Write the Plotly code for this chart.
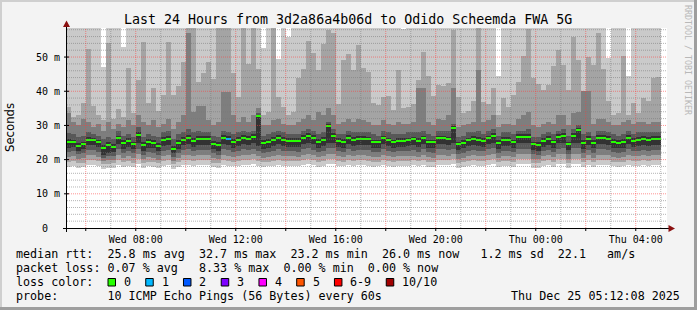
import plotly.graph_objects as go
import pandas as pd

# ---------------- data ----------------
median = [25.2, 25.2, 24.1, 24.6, 25.8, 25.8, 25.2, 23.5, 24.4, 23.8,
          26.4, 24.9, 25.5, 24.6, 27.3, 24.4, 25.2, 24.9, 24.1, 25.8,
          26.1, 23.2, 24.9, 25.8, 26.4, 25.5, 26.1, 26.1, 26.1, 24.6,
          24.4, 26.4, 26.1, 25.2, 25.8, 26.4, 26.1, 26.7, 32.8, 24.9,
          25.2, 25.8, 26.4, 25.8, 25.5, 25.5, 25.5, 26.4, 27.0, 26.4,
          25.2, 25.8, 29.9, 27.0, 25.5, 25.2, 26.4, 25.8, 26.1, 26.1,
          25.9, 25.1, 25.1, 26.3, 25.7, 25.1, 25.5, 25.5, 25.7, 26.0,
          25.5, 26.3, 25.1, 25.1, 26.3, 26.3, 26.0, 29.3, 24.5, 25.0,
          25.7, 26.1, 25.8, 25.5, 26.3, 27.0, 25.0, 25.8, 25.8, 25.1,
          26.7, 26.7, 26.7, 24.6, 24.4, 25.5, 26.1, 25.1, 26.7, 27.0,
          24.6, 27.0, 28.7, 25.0, 26.1, 25.0, 26.4, 26.4, 26.1, 25.2,
          25.0, 25.2, 26.4, 25.5, 25.8, 26.1, 25.8, 26.1, 26.1]

loss = [0] * 32 + [1] + [0] * 86

p10 = [65, 65, 65, 65, 65, 65, 65, 47.0, 65, 65,
       65, 53.0, 65, 65, 65, 65, 65, 65, 65, 65,
       65, 65, 65, 65, 65, 65, 65, 65, 65, 65,
       65, 65, 65, 65, 65, 65, 65, 65, 65, 52.7,
       65, 65, 49.5, 65, 56.0, 65, 65, 65, 65, 65,
       65, 65, 65, 65, 65, 65, 65, 65, 65, 65,
       65, 65, 65, 65, 65, 65, 65, 58.2, 65, 65,
       65, 65, 65, 65, 65, 65, 65, 65, 65, 65,
       65, 65, 65, 65, 65, 65, 44.6, 65, 65, 65,
       65, 65, 65, 65, 65, 65, 65, 65, 65, 65,
       65, 65, 65, 65, 65, 65, 65, 65, 49.8, 65,
       65, 65, 44.6, 65, 65, 65, 65, 65, 65]

p9 = [35.5, 32.5, 33.0, 36.6, 52.4, 35.7, 33.0, 31.5, 54.0, 32.0,
      34.9, 32.5, 46.8, 33.5, 43.3, 54.3, 36.6, 41.0, 34.3, 39.0,
      54.3, 39.0, 41.6, 48.6, 62.0, 62.0, 42.6, 45.3, 48.6, 43.6,
      62.0, 62.0, 62.0, 45.3, 38.3, 62.0, 48.1, 62.0, 46.6, 33.0,
      34.0, 62.0, 38.3, 35.4, 33.0, 34.0, 43.8, 46.6, 54.6, 51.1,
      46.3, 53.8, 57.9, 57.0, 36.4, 49.2, 50.9, 46.3, 53.5, 46.8,
      45.6, 36.7, 36.0, 38.3, 38.6, 34.5, 46.1, 35.0, 35.5, 36.4,
      43.3, 51.4, 44.5, 38.6, 41.9, 41.6, 42.4, 57.9, 38.3, 33.5,
      34.3, 37.1, 62.0, 37.0, 36.4, 41.0, 33.0, 38.0, 35.4, 38.9,
      42.6, 50.2, 58.2, 43.8, 42.0, 40.4, 41.8, 47.4, 52.1, 47.7,
      40.4, 55.9, 49.2, 36.0, 50.0, 47.7, 57.0, 46.5, 37.1, 33.0,
      33.5, 50.2, 33.0, 36.7, 33.5, 38.0, 37.1, 43.8, 44.2]

p8 = [33.6, 31.0, 30.0, 32.0, 31.0, 29.5, 30.5, 28.5, 31.0, 29.0,
      30.5, 29.5, 31.5, 30.0, 33.0, 31.0, 30.0, 31.5, 29.5, 30.5,
      32.0, 29.0, 31.0, 33.0, 56.9, 34.0, 35.8, 35.8, 31.5, 30.0,
      31.0, 39.8, 39.8, 33.0, 31.0, 32.5, 31.0, 33.0, 35.0, 30.0,
      30.0, 31.5, 32.0, 30.5, 30.0, 30.0, 31.0, 32.0, 33.0, 31.5,
      34.0, 33.0, 35.0, 33.0, 30.5, 31.0, 32.0, 31.0, 32.0, 31.5,
      31.0, 30.0, 30.0, 31.5, 30.5, 30.0, 31.0, 30.5, 30.5, 31.0,
      41.0, 41.0, 31.0, 30.0, 32.0, 31.5, 33.0, 41.0, 29.5, 30.0,
      30.5, 31.0, 46.1, 31.0, 31.5, 33.0, 29.5, 30.5, 30.5, 30.0,
      32.0, 33.0, 34.0, 30.0, 29.5, 30.5, 31.0, 30.5, 33.0, 33.0,
      30.0, 33.5, 34.0, 40.0, 40.0, 30.5, 32.0, 32.0, 31.0, 30.0,
      30.0, 31.0, 31.5, 30.5, 31.0, 31.0, 30.5, 31.0, 31.0]

p7 = [27.8, 27.5, 26.5, 27.0, 28.0, 27.5, 27.0, 26.0, 26.5, 26.0,
      28.5, 27.0, 27.5, 26.5, 29.5, 26.5, 27.5, 27.0, 26.5, 28.0,
      28.5, 26.0, 27.5, 28.0, 29.0, 28.0, 28.5, 28.0, 28.0, 27.0,
      26.5, 28.5, 28.0, 27.5, 28.0, 28.5, 28.0, 28.5, 33.5, 27.0,
      27.5, 28.0, 28.5, 28.0, 27.5, 27.5, 27.5, 28.5, 29.0, 28.5,
      27.5, 28.0, 31.0, 29.0, 27.5, 27.5, 28.5, 28.0, 28.0, 28.0,
      28.0, 27.5, 27.0, 28.5, 28.0, 27.5, 27.5, 27.5, 28.0, 28.0,
      28.0, 28.5, 27.5, 27.0, 28.5, 28.5, 28.5, 30.5, 26.5, 27.0,
      28.0, 28.0, 28.5, 27.5, 28.5, 29.0, 27.0, 28.0, 28.0, 27.5,
      28.5, 28.5, 29.0, 26.5, 26.5, 27.5, 28.0, 27.5, 28.5, 29.0,
      27.0, 29.0, 30.0, 27.5, 28.0, 27.0, 28.5, 28.5, 28.0, 27.5,
      27.0, 27.5, 28.5, 27.5, 28.0, 28.0, 28.0, 28.0, 28.0]

p6 = [26.0, 25.8, 25.0, 25.3, 26.5, 26.4, 25.8, 24.3, 25.2, 24.6,
      27.0, 25.6, 26.2, 25.3, 28.0, 25.2, 25.9, 25.6, 24.9, 26.5,
      26.8, 24.0, 25.6, 26.5, 27.1, 26.2, 26.8, 26.8, 26.8, 25.4,
      25.2, 27.1, 26.8, 25.9, 26.5, 27.1, 26.8, 27.4, 33.2, 25.6,
      25.9, 26.5, 27.1, 26.5, 26.2, 26.2, 26.2, 27.1, 27.7, 27.1,
      25.9, 26.5, 30.5, 27.7, 26.2, 25.9, 27.1, 26.5, 26.8, 26.8,
      26.6, 25.8, 25.8, 27.0, 26.4, 25.8, 26.2, 26.2, 26.4, 26.7,
      26.2, 27.0, 25.8, 25.8, 27.0, 27.0, 26.7, 29.8, 25.2, 25.7,
      26.4, 26.8, 26.5, 26.2, 27.0, 27.7, 25.7, 26.5, 26.5, 25.8,
      27.4, 27.4, 27.4, 25.3, 25.1, 26.2, 26.8, 25.8, 27.4, 27.7,
      25.3, 27.7, 29.3, 25.7, 26.8, 25.7, 27.1, 27.1, 26.8, 25.9,
      25.7, 25.9, 27.1, 26.2, 26.5, 26.8, 26.5, 26.8, 26.8]

p5 = [23.4, 23.6, 22.5, 23.0, 24.2, 24.3, 23.6, 21.5, 22.0, 22.2,
      24.6, 23.2, 23.8, 23.0, 25.0, 22.6, 23.5, 23.3, 22.4, 24.0,
      24.4, 21.8, 23.2, 24.2, 24.6, 23.8, 24.4, 24.4, 24.4, 23.0,
      22.6, 24.6, 24.2, 23.5, 24.0, 24.6, 24.3, 24.8, 24.1, 23.2,
      23.5, 24.0, 24.5, 24.1, 23.8, 23.8, 23.7, 24.6, 25.0, 24.5,
      23.4, 24.0, 25.0, 25.0, 23.8, 23.5, 24.6, 24.0, 24.3, 24.3,
      24.2, 23.4, 23.5, 24.5, 24.0, 23.4, 23.8, 23.8, 24.0, 24.2,
      23.7, 24.5, 23.4, 23.3, 24.5, 24.5, 24.2, 24.8, 22.8, 23.3,
      24.0, 24.3, 24.0, 23.8, 24.5, 25.0, 23.2, 24.0, 24.0, 23.4,
      24.8, 24.8, 24.8, 22.8, 22.6, 23.8, 24.3, 23.4, 24.8, 25.0,
      22.8, 25.0, 25.0, 23.2, 24.3, 23.3, 24.6, 24.6, 24.3, 23.5,
      23.3, 23.5, 24.6, 23.8, 24.0, 24.3, 24.0, 24.3, 24.3]

p4 = [22.2, 22.4, 21.6, 21.8, 22.8, 22.9, 22.3, 20.6, 21.0, 21.2,
      23.0, 22.0, 22.4, 21.8, 23.2, 21.5, 22.2, 22.0, 21.3, 22.6,
      22.9, 20.8, 22.0, 22.8, 23.0, 22.4, 22.9, 22.8, 22.8, 21.8,
      21.5, 23.0, 22.7, 22.2, 22.6, 23.0, 22.8, 23.1, 22.6, 22.0,
      22.2, 22.6, 23.0, 22.6, 22.4, 22.4, 22.3, 23.0, 23.3, 22.9,
      22.1, 22.6, 23.3, 23.3, 22.4, 22.2, 23.0, 22.6, 22.8, 22.8,
      22.7, 22.1, 22.2, 23.0, 22.6, 22.1, 22.4, 22.4, 22.6, 22.7,
      22.3, 23.0, 22.1, 22.0, 23.0, 23.0, 22.7, 23.1, 21.6, 22.0,
      22.6, 22.8, 22.6, 22.4, 23.0, 23.3, 22.0, 22.6, 22.6, 22.1,
      23.1, 23.1, 23.1, 21.6, 21.5, 22.4, 22.8, 22.1, 23.1, 23.3,
      21.6, 23.3, 23.3, 22.0, 22.8, 22.0, 23.0, 23.0, 22.8, 22.2,
      22.0, 22.2, 23.0, 22.4, 22.6, 22.8, 22.6, 22.8, 22.8]

p3 = [20.8, 21.0, 20.2, 20.4, 21.3, 21.4, 20.9, 19.6, 19.9, 20.0,
      21.5, 20.6, 21.0, 20.4, 21.6, 20.2, 20.8, 20.6, 20.0, 21.1,
      21.4, 19.7, 20.6, 21.3, 21.5, 21.0, 21.4, 21.3, 21.3, 20.4,
      20.2, 21.5, 21.2, 20.8, 21.1, 21.5, 21.3, 21.6, 21.1, 20.6,
      20.8, 21.1, 21.5, 21.1, 21.0, 21.0, 20.9, 21.5, 21.7, 21.4,
      20.7, 21.1, 21.7, 21.7, 21.0, 20.8, 21.5, 21.1, 21.3, 21.3,
      21.2, 20.7, 20.8, 21.5, 21.1, 20.7, 21.0, 21.0, 21.1, 21.2,
      20.9, 21.5, 20.7, 20.6, 21.5, 21.5, 21.2, 21.6, 20.3, 20.6,
      21.1, 21.3, 21.1, 21.0, 21.5, 21.7, 20.6, 21.1, 21.1, 20.7,
      21.6, 21.6, 21.6, 20.3, 20.2, 21.0, 21.3, 20.7, 21.6, 21.7,
      20.3, 21.7, 21.7, 20.6, 21.3, 20.6, 21.5, 21.5, 21.3, 20.8,
      20.6, 20.8, 21.5, 21.0, 21.1, 21.3, 21.1, 21.3, 21.3]

p2 = [19.4, 19.6, 19.0, 19.1, 19.8, 19.9, 19.5, 18.6, 18.8, 18.9,
      20.0, 19.3, 19.6, 19.1, 20.1, 19.0, 19.4, 19.3, 18.9, 19.7,
      19.9, 18.7, 19.3, 19.8, 20.0, 19.6, 19.9, 19.8, 19.8, 19.1,
      19.0, 20.0, 19.7, 19.4, 19.6, 20.0, 19.8, 20.1, 19.7, 19.3,
      19.4, 19.6, 20.0, 19.7, 19.6, 19.6, 19.5, 20.0, 20.2, 19.9,
      19.3, 19.7, 20.2, 20.2, 19.6, 19.4, 20.0, 19.7, 19.8, 19.8,
      19.7, 19.3, 19.4, 20.0, 19.7, 19.3, 19.6, 19.6, 19.7, 19.8,
      19.5, 20.0, 19.3, 19.3, 20.0, 20.0, 19.8, 20.1, 19.0, 19.3,
      19.7, 19.8, 19.7, 19.6, 20.0, 20.2, 19.3, 19.7, 19.7, 19.3,
      20.1, 20.1, 20.1, 19.0, 19.0, 19.6, 19.8, 19.3, 20.1, 20.2,
      19.0, 20.2, 20.2, 19.3, 19.8, 19.3, 20.0, 20.0, 19.8, 19.4,
      19.3, 19.4, 20.0, 19.6, 19.7, 19.8, 19.7, 19.8, 19.8]

p1 = [17.9, 18.1, 17.6, 17.7, 18.3, 18.4, 18.0, 17.4, 17.5, 17.6,
      18.5, 17.9, 18.1, 17.7, 18.6, 17.6, 18.0, 17.9, 17.6, 18.2,
      18.4, 17.4, 17.9, 18.3, 18.5, 18.1, 18.4, 18.3, 18.3, 17.7,
      17.6, 18.5, 18.2, 18.0, 18.1, 18.5, 18.3, 18.6, 18.2, 17.9,
      18.0, 18.1, 18.5, 18.2, 18.1, 18.1, 18.0, 18.5, 18.7, 18.4,
      17.9, 18.2, 18.7, 18.7, 18.1, 18.0, 18.5, 18.2, 18.3, 18.3,
      18.2, 17.9, 18.0, 18.5, 18.2, 17.9, 18.1, 18.1, 18.2, 18.3,
      18.0, 18.5, 17.9, 17.9, 18.5, 18.5, 18.3, 18.6, 17.6, 17.9,
      18.2, 18.3, 18.2, 18.1, 18.5, 18.7, 17.9, 18.2, 18.2, 17.9,
      18.6, 18.6, 18.6, 17.6, 17.6, 18.1, 18.3, 17.9, 18.6, 18.7,
      17.6, 18.7, 18.7, 17.9, 18.3, 17.9, 18.5, 18.5, 18.3, 18.0,
      17.9, 18.0, 18.5, 18.1, 18.2, 18.3, 18.2, 18.3, 18.3]

loss_labels = ["0", "1", "2", "3", "4", "5", "6-9", "10/10"]
loss_colors = ["#26ff00", "#00b8ff", "#0059ff", "#7e00ff", "#ff00ff", "#ff5500", "#ff0000", "#a10000"]

y_tick_vals = [0, 10, 20, 30, 40, 50]
y_tick_text = ["0\u00a0\u00a0", "10 m", "20 m", "30 m", "40 m", "50 m"]

title_text = "Last 24 Hours from 3d2a86a4b06d to Odido Scheemda FWA 5G"
line_rtt = "median rtt:  25.8 ms avg  32.7 ms max  23.2 ms min  26.0 ms now   1.2 ms sd  22.1   am/s"
line_loss = "packet loss: 0.07 % avg   8.33 % max  0.00 % min  0.00 % now"
line_probe = "probe:       10 ICMP Echo Pings (56 Bytes) every 60s"
stamp = "Thu Dec 25 05:12:08 2025"

# ---------------- geometry / style ----------------
W, H = 697, 310
PL, PT, PW, PH = 67, 28, 600, 200
YMAX = 58.5
X0 = pd.Timestamp("2025-12-24 05:15:00")
X1 = X0 + pd.Timedelta(hours=24)
BIN0 = pd.Timestamp("2025-12-24 05:12:36")
BINW = pd.Timedelta(minutes=12)
MONO = "DejaVu Sans Mono"
BG = "#f3f3f3"


def ppx(x):
    return (x - PL) / PW


def ppy(y):
    return (PT + PH - y) / PH


times = [BIN0 + BINW * (k + 0.5) for k in range(len(median))]
bw = BINW.total_seconds() * 1000

fig = go.Figure()
bands = [(p1, p10, "#cacaca"), (p2, p9, "#a4a4a4"), (p3, p8, "#7e7e7e"),
         (p4, p7, "#585858"), (p5, p6, "#323232")]
for lo, hi, col in bands:
    fig.add_trace(go.Bar(x=times, base=lo, y=[h - l for l, h in zip(lo, hi)],
                         width=bw, marker=dict(color=col, line=dict(width=0)),
                         hoverinfo="skip", showlegend=False))
fig.add_trace(go.Bar(x=times, base=[m - 0.3 for m in median], y=[0.6] * len(median),
                     width=bw, marker=dict(color=[loss_colors[l] for l in loss], line=dict(width=0)),
                     hoverinfo="skip", showlegend=False))

shapes = []
DOT = "1px,1px"
GREY = "rgba(120,120,120,0.55)"
RED = "rgba(255,60,60,0.55)"
# horizontal grid
for v in range(2, 59, 2):
    shapes.append(dict(type="line", xref="paper", yref="y", x0=0, x1=1, y0=v, y1=v, layer="above",
                       line=dict(color=RED if v % 10 == 0 else GREY, width=1, dash=DOT)))
# vertical grid
t = pd.Timestamp("2025-12-24 06:00")
while t < X1:
    shapes.append(dict(type="line", xref="x", yref="paper", x0=t, x1=t, y0=0, y1=1, layer="above",
                       line=dict(color=RED if t.hour % 2 == 0 else GREY, width=1, dash=DOT)))
    if t.hour % 2 == 0:
        shapes.append(dict(type="line", xref="x", yref="paper", x0=t, x1=t, y0=ppy(228), y1=ppy(231),
                           layer="above", line=dict(color="#000000", width=1)))
    t += pd.Timedelta(hours=1)
# y ticks
for v in y_tick_vals[1:]:
    shapes.append(dict(type="line", xref="paper", yref="y", x0=ppx(64), x1=ppx(69), y0=v, y1=v,
                       layer="above", line=dict(color="#000000", width=1)))
# axes
shapes.append(dict(type="line", xref="paper", yref="paper", x0=ppx(63), x1=ppx(670), y0=ppy(228.5), y1=ppy(228.5),
                   layer="above", line=dict(color="#000000", width=1)))
shapes.append(dict(type="line", xref="paper", yref="paper", x0=ppx(66.5), x1=ppx(66.5), y0=ppy(232), y1=ppy(25),
                   layer="above", line=dict(color="#000000", width=1)))
ARW = "#8b1010"
shapes.append(dict(type="path", xref="paper", yref="paper", layer="above", fillcolor=ARW, line=dict(width=0),
                   path=f"M {ppx(66.5)} {ppy(20.5)} L {ppx(63)} {ppy(27)} L {ppx(70)} {ppy(27)} Z"))
shapes.append(dict(type="path", xref="paper", yref="paper", layer="above", fillcolor=ARW, line=dict(width=0),
                   path=f"M {ppx(675)} {ppy(228.5)} L {ppx(668.5)} {ppy(225)} L {ppx(668.5)} {ppy(232)} Z"))
# borders
shapes.append(dict(type="rect", xref="paper", yref="paper", x0=ppx(0), x1=ppx(2), y0=ppy(0), y1=ppy(310),
                   fillcolor="#cfcfcf", line=dict(width=0), layer="above"))
shapes.append(dict(type="rect", xref="paper", yref="paper", x0=ppx(0), x1=ppx(697), y0=ppy(0), y1=ppy(2),
                   fillcolor="#cfcfcf", line=dict(width=0), layer="above"))
shapes.append(dict(type="rect", xref="paper", yref="paper", x0=ppx(694), x1=ppx(697), y0=ppy(0), y1=ppy(310),
                   fillcolor="#9e9e9e", line=dict(width=0), layer="above"))
shapes.append(dict(type="rect", xref="paper", yref="paper", x0=ppx(0), x1=ppx(697), y0=ppy(307), y1=ppy(310),
                   fillcolor="#9e9e9e", line=dict(width=0), layer="above"))

annotations = []


def text(x, y, s, size=11.7, anchor="left", family=MONO, color="#000000", angle=0):
    annotations.append(dict(x=ppx(x), y=ppy(y), xref="paper", yref="paper", text=s.replace(" ", "\u00a0"),
                            showarrow=False, xanchor=anchor, yanchor="middle", textangle=angle,
                            font=dict(family=family, size=size, color=color), borderpad=0))


text(348, 19, title_text, size=13.3, anchor="center")
text(15, 254, line_rtt)
text(15, 268, line_loss)
text(15, 282, "loss color:")
text(15, 296, line_probe)
text(681, 296, stamp, anchor="right")
text(10, 128, "Seconds", family="DejaVu Sans", anchor="center", angle=-90)
text(688, 60, "RRDTOOL / TOBI OETIKER", size=8.3, anchor="center", color="#b8b8b8", angle=90)

# loss colour legend
bx = 108
for lab, col in zip(loss_labels, loss_colors):
    shapes.append(dict(type="rect", xref="paper", yref="paper", x0=ppx(bx), x1=ppx(bx + 7.5),
                       y0=ppy(278.5), y1=ppy(286), fillcolor=col, line=dict(color="#000000", width=1),
                       layer="above"))
    tx = bx + 15.3
    text(tx - 0.5, 282, lab)
    bx = tx + len(lab) * 7.04 + 15.4

fig.update_layout(
    width=W, height=H, autosize=False,
    margin=dict(l=PL, r=W - PL - PW, t=PT, b=H - PT - PH, pad=0),
    paper_bgcolor=BG, plot_bgcolor="#ffffff",
    barmode="overlay", bargap=0,
    showlegend=False,
    shapes=shapes, annotations=annotations,
    xaxis=dict(type="date", range=[X0, X1], showgrid=False, zeroline=False, showline=False,
               tick0="2025-12-24 00:00", dtick=4 * 3600 * 1000, tickformat="%a %H:%M",
               ticks="", tickfont=dict(family=MONO, size=10, color="#000000"), ticklabelstandoff=4),
    yaxis=dict(range=[0, YMAX], showgrid=False, zeroline=False, showline=False,
               tickmode="array", tickvals=y_tick_vals, ticktext=y_tick_text,
               ticks="", tickfont=dict(family=MONO, size=10, color="#000000"), ticklabelstandoff=6),
)

fig.write_html("out.html", config={"displayModeBar": False})
